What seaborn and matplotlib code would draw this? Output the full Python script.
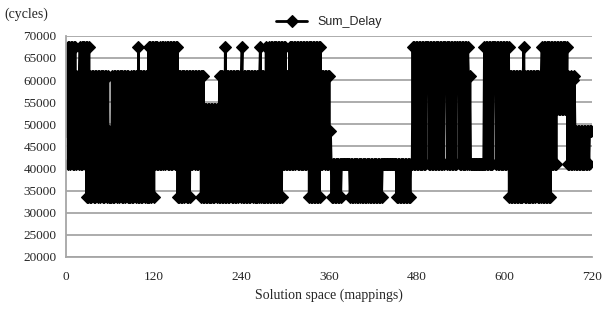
import numpy as np
import pandas as pd
import seaborn as sns
import matplotlib.pyplot as plt

# delay level for each code letter (cycles)
levels = {'a': 33500, 'b': 41000, 'c': 48500, 'd': 53500,
          'e': 60000, 'f': 61000, 'g': 67500}

# one letter per mapping, 60 mappings per row
delay_codes = [
    "cegbgbgcgb gbgbfcfbfg bgbgcgbgag agafafbfaf afdfafafcf afafbfafac",
    "acafafafbf afafdfafaf afbfafacaf afafbfafag afafafbfaf afagagagbg",
    "agbgbgbfbg bgbgcgbfgb gbgbgbgcgb gbgafafafa fafdfafafa fbfbfcfbfb",
    "fbfcfafafa dadadadada dadadbdada fafafafaga fafafbfafa fafafafbfa",
    "fgafafafaf afafbfafaf afafafgafa fafagafaga gagagagaga gagagagbgb",
    "gbfbfbgbgb gbgbgcgbgb gbgbgbgbgb gbgagagaga gagagagagb fbfcfbfbfb",
    "fbcbababab ababababbb bbbbbbbbba babababbab ababbababa bababbabab",
    "ababababab ababbbbbbb bbbbbbbbbb bbbabababa bababababa babbbgbgbg",
    "bgbgbgbgbg bgbggfgbgb gbgbgbgbgb gbgbgbgbgg fgbgbgbgbg bgbgbggfgb",
    "gbgbgbgbgb gfbfbbbbbb bbbbbbbbbb bbbgbgbgbg bgbgbggfgb gbgbgbgbgb",
    "gbgbgbgafa fafafafafa fafafafgaf afafafafaf afafbfafaf afgagagaga",
    "gagagbgbgb gbgdgdgdgd gdgdgdgbfb ebfbebfcbc bcbcbcbcbc bcbcbcbccc",
]
x_ticks = [0, 120, 240, 360, 480, 600, 720]
y_ticks = list(range(20000, 70001, 5000))

codes = "".join(delay_codes).replace(" ", "")
sum_delay = [levels[c] for c in codes]
df = pd.DataFrame({"mapping": np.arange(len(sum_delay)), "Sum_Delay": sum_delay})

sns.set_style("white")
plt.rcParams['font.family'] = ['Liberation Serif', 'DejaVu Serif']

fig, ax = plt.subplots(figsize=(6.02, 3.2), dpi=100)
fig.subplots_adjust(left=0.11, right=0.983, top=0.888, bottom=0.197)

sns.lineplot(data=df, x="mapping", y="Sum_Delay", ax=ax, color="black",
             marker="D", markersize=6, markerfacecolor="black",
             markeredgecolor="black", markeredgewidth=0.8, linewidth=2.0,
             label="Sum_Delay")

ax.set_xlim(0, 720)
ax.set_ylim(20000, 70000)
ax.set_xticks(x_ticks)
ax.set_yticks(y_ticks)
ax.yaxis.grid(True, color="#a6a6a6", linewidth=1.3)
ax.set_axisbelow(True)
for side in ["top", "right"]:
    ax.spines[side].set_visible(False)
for side in ["left", "bottom"]:
    ax.spines[side].set_color("#a6a6a6")
    ax.spines[side].set_linewidth(1.3)
ax.tick_params(axis="both", direction="out", length=4, width=1.0,
               color="#a6a6a6", labelsize=9.5, pad=3)
ax.tick_params(axis="x", pad=6)

ax.set_xlabel("Solution space (mappings)", fontsize=10, labelpad=4)
ax.set_ylabel("")
fig.text(0.008, 0.955, "(cycles)", fontsize=10, va="center")

leg = ax.legend(loc="lower center", bbox_to_anchor=(0.5, 1.0), frameon=False,
                prop={"family": "Liberation Sans", "size": 9},
                handlelength=2.5, borderaxespad=0.2)

plt.savefig("out.png", dpi=100)
